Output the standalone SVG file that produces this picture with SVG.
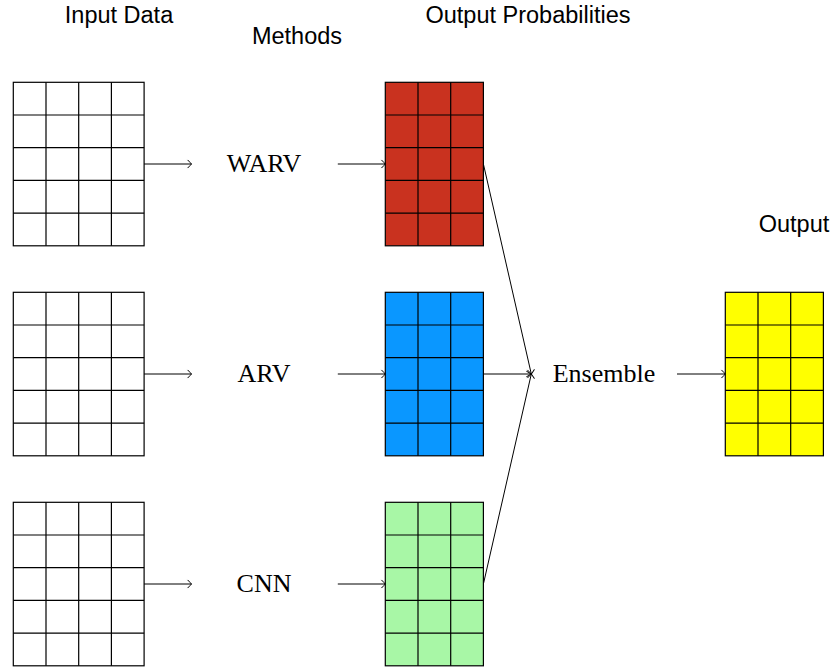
<svg xmlns="http://www.w3.org/2000/svg" xmlns:xlink="http://www.w3.org/1999/xlink" width="835" height="670" viewBox="0 0 835 670">
<style>
.hdr{font-family:"Liberation Sans",Arial,sans-serif;font-size:23.5px;fill:#000;text-anchor:middle}
.lbl{font-family:"Liberation Serif","Times New Roman",serif;font-size:26px;fill:#000;text-anchor:middle}
.con{stroke:#000;stroke-width:1;fill:none}
.arr{marker-end:url(#to)}
</style>
<defs>
<marker id="to" markerUnits="userSpaceOnUse" markerWidth="12" markerHeight="12" refX="0" refY="0" viewBox="-6 -6 12 12" orient="auto" overflow="visible">
<path d="M-3.6,-3.8 Q-0.6,-0.8 0,0 Q-0.6,0.8 -3.6,3.8" fill="none" stroke="#000" stroke-width="1" stroke-linecap="round"/>
</marker>
<g id="g4">
<rect x="0" y="0" width="130.8" height="163.5" stroke="#000" stroke-width="1.2"/>
<path d="M32.7 0V163.5M65.4 0V163.5M98.1 0V163.5M0 32.7H130.8M0 65.4H130.8M0 98.1H130.8M0 130.8H130.8" fill="none" stroke="#000" stroke-width="1.2"/>
</g>
<g id="g3">
<rect x="0" y="0" width="98.1" height="163.5" stroke="#000" stroke-width="1.2"/>
<path d="M32.7 0V163.5M65.4 0V163.5M0 32.7H98.1M0 65.4H98.1M0 98.1H98.1M0 130.8H98.1" fill="none" stroke="#000" stroke-width="1.2"/>
</g>
</defs>

<g id="headers">
<text class="hdr" x="119" y="22.8">Input Data</text>
<text class="hdr" x="297" y="43.5">Methods</text>
<text class="hdr" x="528" y="22.8">Output Probabilities</text>
<text class="hdr" x="794" y="231.8">Output</text>
</g>

<g id="input-1"><use xlink:href="#g4" x="13.3" y="82.3" fill="#fff"/></g>
<g id="input-2"><use xlink:href="#g4" x="13.3" y="292.3" fill="#fff"/></g>
<g id="input-3"><use xlink:href="#g4" x="13.3" y="502.3" fill="#fff"/></g>

<g id="method-warv"><text class="lbl" x="264" y="172.3">WARV</text></g>
<g id="method-arv"><text class="lbl" x="264" y="382.3">ARV</text></g>
<g id="method-cnn"><text class="lbl" x="264" y="592.3">CNN</text></g>

<g id="prob-warv"><use xlink:href="#g3" x="385.3" y="82.3" fill="#C9321F"/></g>
<g id="prob-arv"><use xlink:href="#g3" x="385.3" y="292.3" fill="#0A97FF"/></g>
<g id="prob-cnn"><use xlink:href="#g3" x="385.3" y="502.3" fill="#A8F7A6"/></g>

<g id="ensemble"><text class="lbl" x="604" y="382">Ensemble</text></g>

<g id="output"><use xlink:href="#g3" x="725.3" y="292.3" fill="#FFFF00"/></g>

<g id="connectors">
<line class="con arr" x1="144.1" y1="164" x2="191.5" y2="164"/>
<line class="con arr" x1="144.1" y1="374" x2="191.5" y2="374"/>
<line class="con arr" x1="144.1" y1="584" x2="191.5" y2="584"/>
<line class="con arr" x1="337.8" y1="164" x2="385.3" y2="164"/>
<line class="con arr" x1="337.8" y1="374" x2="385.3" y2="374"/>
<line class="con arr" x1="337.8" y1="584" x2="385.3" y2="584"/>
<line class="con arr" x1="483.4" y1="164" x2="531.3" y2="374"/>
<line class="con arr" x1="483.4" y1="374" x2="531.3" y2="374"/>
<line class="con arr" x1="483.4" y1="584" x2="531.3" y2="374"/>
<line class="con arr" x1="677" y1="374" x2="725.3" y2="374"/>
</g>
</svg>
